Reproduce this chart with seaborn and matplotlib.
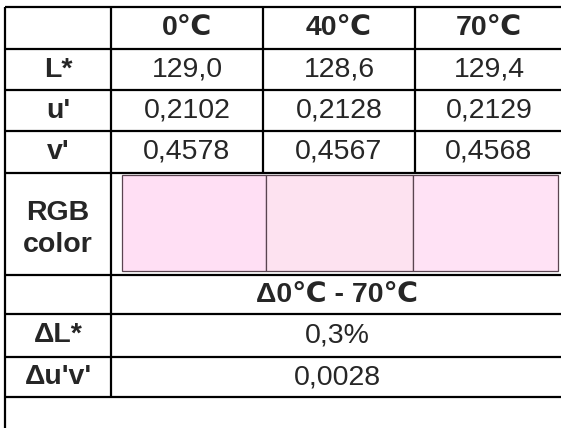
import matplotlib
matplotlib.use("Agg")
import matplotlib.pyplot as plt
import seaborn as sns
from matplotlib.patches import Rectangle

# table content
temps = ["0℃", "40℃", "70℃"]
row_labels = ["L*", "u'", "v'"]
values = [
    ["129,0", "128,6", "129,4"],
    ["0,2102", "0,2128", "0,2129"],
    ["0,4578", "0,4567", "0,4568"],
]
swatch_colors = ["#ffdff4", "#fde2f0", "#ffe2f5"]
delta_header = "Δ0℃ - 70℃"
delta_labels = ["ΔL*", "Δu'v'"]
delta_values = ["0,3%", "0,0028"]

sns.set_style("white")
plt.rcParams["font.family"] = ["Liberation Sans", "DejaVu Sans"]

W, H = 561, 428
fig = plt.figure(figsize=(W / 100, H / 100), dpi=100)
ax = fig.add_axes([0, 0, 1, 1])
ax.set_xlim(0, W)
ax.set_ylim(H, 0)
ax.axis("off")

# grid geometry in pixels
col_x = [5, 111, 263, 415, 563]
row_y = [7, 49, 90, 131, 173, 275, 314, 357, 397]
lw = 1.6
fs = 20.5

def hline(y, x0=col_x[0], x1=W + 2):
    ax.plot([x0, x1], [y, y], color="black", lw=lw, solid_capstyle="butt")

def vline(x, y0, y1):
    ax.plot([x, x], [y0, y1], color="black", lw=lw, solid_capstyle="butt")

for y in row_y:
    hline(y)
vline(col_x[0], row_y[0], H + 2)
vline(col_x[1], row_y[0], row_y[-1])
for x in col_x[2:4]:
    vline(x, row_y[0], row_y[4])

def cx(i):
    return (col_x[i] + col_x[i + 1]) / 2

def cy(j):
    return (row_y[j] + row_y[j + 1]) / 2

# header
for i, t in enumerate(temps):
    ax.text(cx(i + 1), cy(0), t, ha="center", va="center", fontsize=fs, fontweight="bold")

# value rows
for j, (lab, row) in enumerate(zip(row_labels, values)):
    ax.text(cx(0), cy(j + 1), lab, ha="center", va="center", fontsize=fs, fontweight="bold")
    for i, v in enumerate(row):
        ax.text(cx(i + 1), cy(j + 1), v, ha="center", va="center", fontsize=fs)

# RGB swatches
sw_x = [122, 266, 413, 558]
for i, c in enumerate(swatch_colors):
    ax.add_patch(Rectangle((sw_x[i], 175), sw_x[i + 1] - sw_x[i], 96,
                           facecolor=c, edgecolor="#5a4450", lw=0.9))
ax.text(cx(0), cy(4) + 5, "RGB\ncolor", ha="center", va="center", fontsize=fs,
        fontweight="bold", linespacing=1.3)

# delta rows
mid = (col_x[1] + col_x[-1]) / 2
ax.text(mid, cy(5), delta_header, ha="center", va="center", fontsize=fs, fontweight="bold")
for j, (lab, v) in enumerate(zip(delta_labels, delta_values)):
    ax.text(cx(0), cy(j + 6), lab, ha="center", va="center", fontsize=fs, fontweight="bold")
    ax.text(mid, cy(j + 6), v, ha="center", va="center", fontsize=fs)

fig.savefig("out.png", dpi=100)
